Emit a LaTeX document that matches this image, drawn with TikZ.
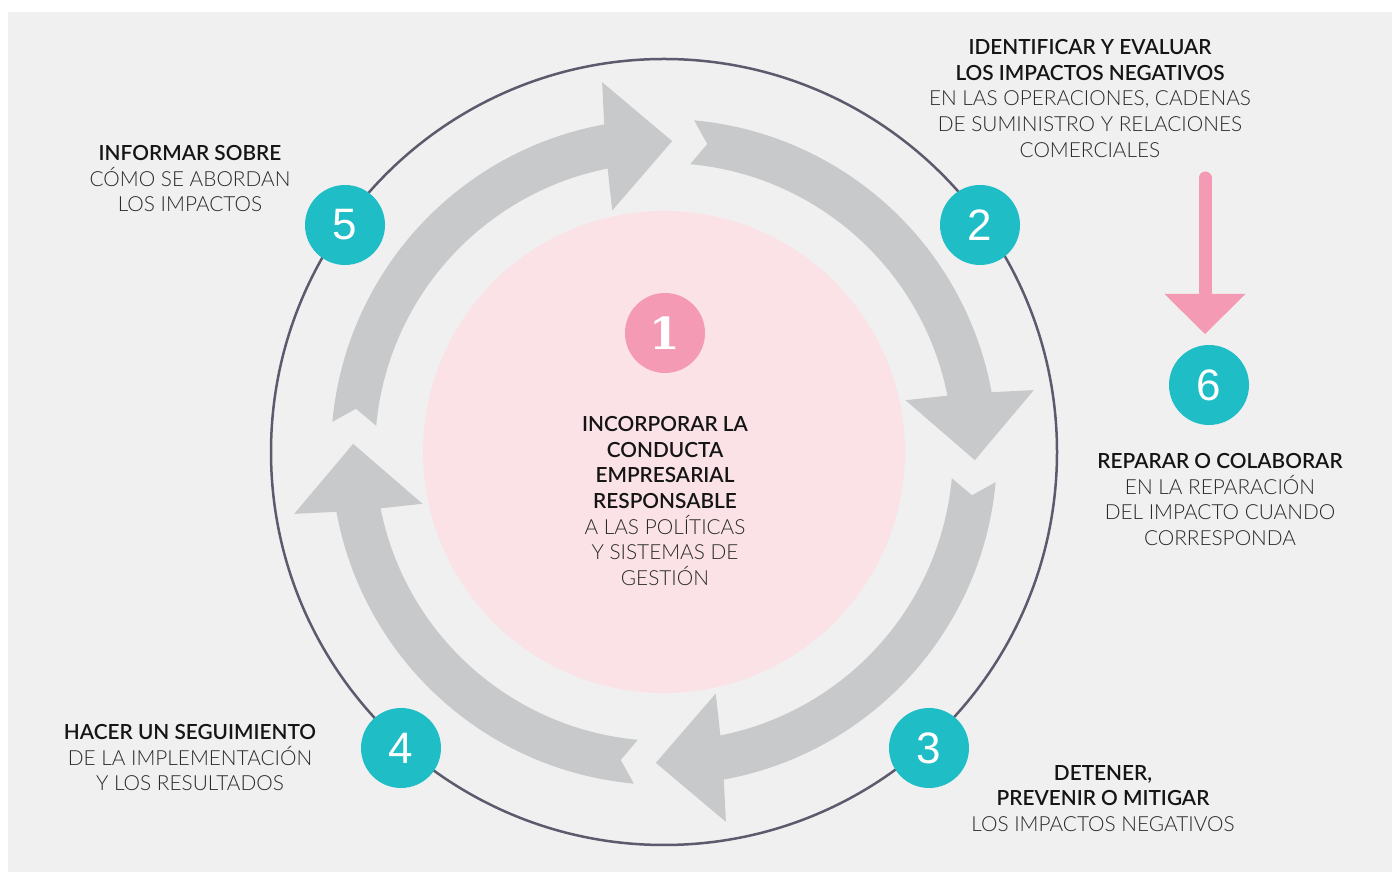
\documentclass[tikz,border=0pt]{standalone}
\usepackage{fontspec}
\setmainfont{Lato}
\newfontfamily\medf{Lato Semibold}
\newfontfamily\lightf{Lato Light}
\newfontfamily\numf{Liberation Sans}
\newfontfamily\onef{DejaVu Serif}[UprightFont=* Bold]
\definecolor{bgc}{HTML}{F0F0F0}
\definecolor{ringc}{HTML}{5E5A6E}
\definecolor{arrowc}{HTML}{C8C9CB}
\definecolor{pinkbg}{HTML}{FBE2E7}
\definecolor{pinkc}{HTML}{F49AB5}
\definecolor{tealc}{HTML}{1FBEC6}
\definecolor{darktxt}{HTML}{151515}
\definecolor{greytxt}{HTML}{2A2A2A}
\newcommand{\headtxt}[1]{{\medf\color{darktxt}#1}}
\newcommand{\lighttxt}[1]{{\lightf\color{greytxt}#1}}
\tikzset{
  txt/.style={inner sep=0pt, anchor=north, align=center,
    font=\fontsize{20.8}{25.7}\selectfont},
  numc/.style={circle, fill=tealc, minimum size=80pt, inner sep=0pt, text=white,
    font=\numf\fontsize{44}{44}\selectfont},
  cyclearrow/.style={fill=arrowc, draw=none},
}
\newcommand{\cyclepath}{(174.8:333) arc[start angle=174.8, end angle=100.35, radius=333]
  -- (99.5:375) -- (88.5:311) -- (102.1:247) -- (101.25:289)
  arc[start angle=101.25, end angle=174.8, radius=289] -- (172:311) -- cycle}
\begin{document}
\begin{tikzpicture}[x=1pt,y=1pt]
\useasboundingbox (0,0) rectangle (1392,872);
\fill[bgc] (8,0) rectangle (1392,860);
\coordinate (C) at (664,420);
% outer ring
\draw[ringc, line width=2.5pt] (C) circle[radius=393];
% inner pink disc
\fill[pinkbg] (C) circle[radius=241];
% four cycle arrows
\foreach \r in {0,-90,-180,-270}{
  \begin{scope}[shift={(C)}, rotate=\r]
    \fill[cyclearrow] \cyclepath;
  \end{scope}
}
% number circles
\node[numc, fill=pinkc, font=\onef\fontsize{44}{44}\selectfont] (n1) at (665,539) {1};
\node[numc] (n2) at (980,647) {2};
\node[numc] (n3) at (929,124) {3};
\node[numc] (n4) at (401,124) {4};
\node[numc] (n5) at (345,647) {5};
\node[numc] (n6) at (1209,487) {6};
% pink arrow to 6
\coordinate (pa) at (1205,694);
\coordinate (pb) at (1205,578);
\draw[pinkc, line width=13pt, line cap=round] (pa) -- ([yshift=2pt]pb);
\fill[pinkc] ([xshift=-40.5pt]pb) -- ([xshift=40.5pt]pb) -- ([yshift=-40pt]pb) -- cycle;
% texts
\node[txt] (t1) at (665,456) {\headtxt{INCORPORAR LA}\\\headtxt{CONDUCTA}\\\headtxt{EMPRESARIAL}\\\headtxt{RESPONSABLE}\\
  \lighttxt{A LAS POLÍTICAS}\\\lighttxt{Y SISTEMAS DE}\\\lighttxt{GESTIÓN}};
\node[txt] (t2) at (1090,833) {\headtxt{IDENTIFICAR Y EVALUAR}\\\headtxt{LOS IMPACTOS NEGATIVOS}\\
  \lighttxt{EN LAS OPERACIONES, CADENAS}\\\lighttxt{DE SUMINISTRO Y RELACIONES}\\\lighttxt{COMERCIALES}};
\node[txt] (t3) at (1103,107) {\headtxt{DETENER,}\\\headtxt{PREVENIR O MITIGAR}\\
  \lighttxt{LOS IMPACTOS NEGATIVOS}};
\node[txt] (t4) at (190,148) {\headtxt{HACER UN SEGUIMIENTO}\\
  \lighttxt{DE LA IMPLEMENTACIÓN}\\\lighttxt{Y LOS RESULTADOS}};
\node[txt] (t5) at (190,727) {\headtxt{INFORMAR SOBRE}\\
  \lighttxt{CÓMO SE ABORDAN}\\\lighttxt{LOS IMPACTOS}};
\node[txt] (t6) at (1220,419) {\headtxt{REPARAR O COLABORAR}\\
  \lighttxt{EN LA REPARACIÓN}\\\lighttxt{DEL IMPACTO CUANDO}\\\lighttxt{CORRESPONDA}};
\end{tikzpicture}
\end{document}
